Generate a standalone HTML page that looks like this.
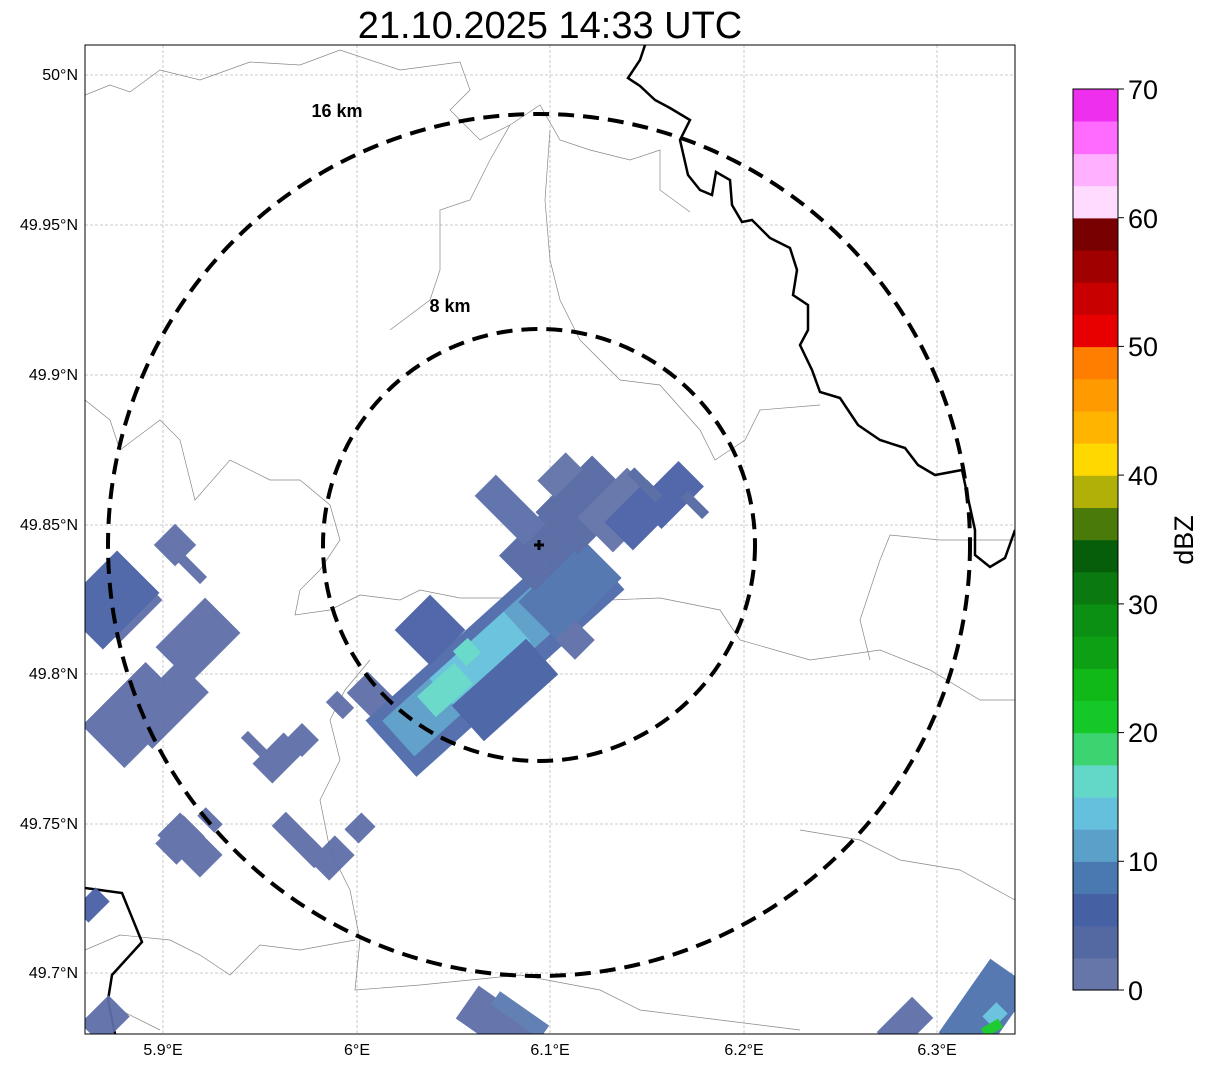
<!DOCTYPE html><html><head><style>body{margin:0;background:#fff}svg{display:block}text{font-family:"Liberation Sans",sans-serif}</style></head><body>
<svg width="1207" height="1069" viewBox="0 0 1207 1069" xmlns="http://www.w3.org/2000/svg">
<text x="550" y="38" font-size="38" text-anchor="middle">21.10.2025 14:33 UTC</text>
<defs><clipPath id="c"><rect x="85" y="45" width="930" height="989"/></clipPath></defs>
<g clip-path="url(#c)">
<g stroke="#bbb" stroke-width="0.8" stroke-dasharray="3,2">
<line x1="163" y1="45" x2="163" y2="1034"/><line x1="357" y1="45" x2="357" y2="1034"/><line x1="550" y1="45" x2="550" y2="1034"/><line x1="744" y1="45" x2="744" y2="1034"/><line x1="937" y1="45" x2="937" y2="1034"/>
<line x1="85" y1="75" x2="1015" y2="75"/><line x1="85" y1="225" x2="1015" y2="225"/><line x1="85" y1="375" x2="1015" y2="375"/><line x1="85" y1="525" x2="1015" y2="525"/><line x1="85" y1="674" x2="1015" y2="674"/><line x1="85" y1="824" x2="1015" y2="824"/><line x1="85" y1="973" x2="1015" y2="973"/>
</g>
<g fill="none" stroke="#888" stroke-width="0.7">
<path d="M85,95 L110,85 L130,92 L160,70 L200,80 L250,62 L300,65 L340,50 L400,70 L460,62 L470,90 L450,110 L480,140 L510,125 L540,105 L560,140 L590,150 L630,160 L660,150 L660,190 L690,212"/>
<path d="M510,125 L490,160 L470,200 L440,210 L440,270 L430,300 L390,330"/>
<path d="M550,130 L545,200 L550,260 L560,300 L580,340 L620,380 L660,385 L700,430 L715,460 L745,440 L760,410 L820,405"/>
<path d="M85,400 L110,420 L120,450 L160,420 L180,440 L195,500 L230,460 L270,480 L300,480 L330,505 L340,540 L320,570 L300,590 L295,615 L330,610 L360,595 L400,600 L420,590 L460,598 L510,598"/>
<path d="M610,600 L660,598 L720,610 L740,640 L810,660 L880,650 L930,670 L980,700 L1015,700"/>
<path d="M1015,540 L940,540 L890,535 L880,560 L860,620 L870,660"/>
<path d="M370,660 L345,690 L330,720 L340,760 L320,800 L330,850 L350,890 L360,940 L355,990 L420,985 L520,975 L600,990 L640,1010 L720,1020 L800,1030"/>
<path d="M85,950 L120,935 L170,940 L200,955 L230,975 L260,945 L300,950 L355,940"/>
<path d="M800,830 L860,840 L900,860 L960,870 L1015,900"/>
<path d="M120,1010 L160,1030"/>
</g>
<g fill="none" stroke="#000" stroke-width="2.5">
<path d="M645,45 L640,60 L628,78 L640,86 L655,100 L670,108 L690,120 L680,140 L688,175 L700,190 L712,195 L716,172 L730,180 L732,205 L742,222 L752,220 L770,238 L790,248 L797,270 L793,295 L808,305 L808,330 L800,345 L812,370 L820,392 L840,398 L858,425 L880,440 L905,448 L918,465 L935,475 L962,470 L968,498 L975,530 L975,555 L990,567 L1005,558 L1015,530"/>
<path d="M85,888 L122,893 L142,942 L112,975 L108,1000 L115,1034"/>
</g>
<g opacity="0.95">
<g fill="#5e6fa8">
<rect x="-30" y="-30" width="60" height="60" transform="translate(120,600) rotate(-45)"/>
<rect x="-35" y="-25" width="70" height="50" transform="translate(198,640) rotate(-45)"/>
<rect x="-45" y="-30" width="90" height="60" transform="translate(135,715) rotate(-45)"/>
<rect x="-40" y="-22" width="80" height="44" transform="translate(165,705) rotate(-45)"/>
<rect x="-15" y="-15" width="30" height="30" transform="translate(175,545) rotate(-45)"/>
<rect x="-22" y="-5" width="44" height="10" transform="translate(188,565) rotate(45)"/>
<rect x="-22" y="-14" width="44" height="28" transform="translate(278,758) rotate(-45)"/>
<rect x="-12" y="-12" width="24" height="24" transform="translate(302,740) rotate(-45)"/>
<rect x="-30" y="-16" width="60" height="32" transform="translate(190,845) rotate(45)"/>
<rect x="-20" y="-15" width="40" height="30" transform="translate(180,840) rotate(-45)"/>
<rect x="-30" y="-10" width="60" height="20" transform="translate(300,840) rotate(45)"/>
<rect x="-18" y="-14" width="36" height="28" transform="translate(332,858) rotate(-45)"/>
<rect x="-12" y="-10" width="24" height="20" transform="translate(360,828) rotate(-45)"/>
<rect x="-12" y="-8" width="24" height="16" transform="translate(340,705) rotate(45)"/>
<rect x="-15" y="-5" width="30" height="10" transform="translate(255,745) rotate(45)"/>
<rect x="-12" y="-6" width="24" height="12" transform="translate(210,820) rotate(45)"/>
<rect x="-25" y="-15" width="50" height="30" transform="translate(375,700) rotate(45)"/>
</g>
<rect x="-40" y="-30" width="80" height="60" fill="#4a62a6" transform="translate(110,600) rotate(-45)"/>
<rect x="-140" y="-38" width="280" height="76" fill="#4d6aaa" transform="translate(495,655) rotate(-42)"/>
<rect x="-110" y="-24" width="220" height="48" fill="#5a9cc8" transform="translate(480,665) rotate(-42)"/>
<rect x="-50" y="-20" width="100" height="40" fill="#64c0dc" transform="translate(480,660) rotate(-42)"/>
<rect x="-25" y="-14" width="50" height="28" fill="#64d8c8" transform="translate(445,690) rotate(-42)"/>
<rect x="-10" y="-10" width="20" height="20" fill="#64d8c8" transform="translate(467,652) rotate(-42)"/>
<rect x="-50" y="-24" width="100" height="48" fill="#4660a4" transform="translate(505,690) rotate(-42)"/>
<rect x="-25" y="-25" width="50" height="50" fill="#4a60a6" transform="translate(430,630) rotate(-45)"/>
<rect x="-45" y="-28" width="90" height="56" fill="#4d72ae" transform="translate(570,590) rotate(-45)"/>
<rect x="-40" y="-25" width="80" height="50" fill="#5468a2" transform="translate(545,545) rotate(-45)"/>
<rect x="-35" y="-15" width="70" height="30" fill="#5a6ea8" transform="translate(510,510) rotate(45)"/>
<rect x="-40" y="-30" width="80" height="60" fill="#5468a2" transform="translate(585,505) rotate(-45)"/>
<rect x="-35" y="-25" width="70" height="50" fill="#6272a8" transform="translate(620,510) rotate(-45)"/>
<rect x="-30" y="-20" width="60" height="40" fill="#4a60a6" transform="translate(640,515) rotate(-45)"/>
<rect x="-20" y="-12" width="40" height="24" fill="#6272a8" transform="translate(560,475) rotate(-45)"/>
<rect x="-30" y="-18" width="60" height="36" fill="#4a60a6" transform="translate(670,495) rotate(-45)"/>
<rect x="-20" y="-5" width="40" height="10" fill="#5468a2" transform="translate(645,485) rotate(45)"/>
<rect x="-15" y="-5" width="30" height="10" fill="#5468a2" transform="translate(695,505) rotate(45)"/>
<rect x="-14" y="-14" width="28" height="28" fill="#5e6fa8" transform="translate(575,640) rotate(-45)"/>
<rect x="-40" y="-20" width="80" height="40" fill="#5e6fa8" transform="translate(500,1025) rotate(35)"/>
<rect x="-30" y="-8" width="60" height="16" fill="#5a7ab0" transform="translate(520,1015) rotate(35)"/>
<rect x="-25" y="-15" width="50" height="30" fill="#5e6fa8" transform="translate(905,1025) rotate(-45)"/>
<rect x="-45" y="-25" width="90" height="50" fill="#4d72ae" transform="translate(985,1010) rotate(-55)"/>
<rect x="-10" y="-8" width="20" height="16" fill="#64c0dc" transform="translate(995,1015) rotate(-45)"/>
<rect x="-10" y="-5" width="20" height="10" fill="#14c828" transform="translate(992,1028) rotate(-30)"/>
<rect x="-15" y="-10" width="30" height="20" fill="#4a60a6" transform="translate(92,905) rotate(-45)"/>
<rect x="-20" y="-15" width="40" height="30" fill="#5e6fa8" transform="translate(105,1020) rotate(-45)"/>
</g>
<g fill="none" stroke="#000" stroke-width="4" stroke-dasharray="16,9">
<circle cx="539" cy="545" r="431"/><circle cx="539" cy="545" r="216"/>
</g>
<path d="M539,540 v10 M534,545 h10" stroke="#000" stroke-width="3"/>
</g>
<rect x="85" y="45" width="930" height="989" fill="none" stroke="#000" stroke-width="1"/>
<text x="337" y="117" font-size="18" font-weight="bold" text-anchor="middle">16 km</text>
<text x="450" y="312" font-size="18" font-weight="bold" text-anchor="middle">8 km</text>
<g font-size="16" text-anchor="end">
<text x="78" y="80">50°N</text><text x="78" y="230">49.95°N</text><text x="78" y="380">49.9°N</text><text x="78" y="530">49.85°N</text><text x="78" y="679">49.8°N</text><text x="78" y="829">49.75°N</text><text x="78" y="978">49.7°N</text>
</g>
<g font-size="16" text-anchor="middle">
<text x="163" y="1055">5.9°E</text><text x="357" y="1055">6°E</text><text x="550" y="1055">6.1°E</text><text x="744" y="1055">6.2°E</text><text x="937" y="1055">6.3°E</text>
</g>
<g>
<rect x="1073" y="957.8" width="45" height="32.8" fill="#6676a8"/>
<rect x="1073" y="925.6" width="45" height="32.8" fill="#5468a2"/>
<rect x="1073" y="893.5" width="45" height="32.8" fill="#4660a4"/>
<rect x="1073" y="861.3" width="45" height="32.8" fill="#4a78b0"/>
<rect x="1073" y="829.1" width="45" height="32.8" fill="#5aa0c8"/>
<rect x="1073" y="796.9" width="45" height="32.8" fill="#64c0dc"/>
<rect x="1073" y="764.8" width="45" height="32.8" fill="#64d8c8"/>
<rect x="1073" y="732.6" width="45" height="32.8" fill="#3cd470"/>
<rect x="1073" y="700.4" width="45" height="32.8" fill="#14c828"/>
<rect x="1073" y="668.2" width="45" height="32.8" fill="#10b818"/>
<rect x="1073" y="636.1" width="45" height="32.8" fill="#0ea014"/>
<rect x="1073" y="603.9" width="45" height="32.8" fill="#0c9014"/>
<rect x="1073" y="571.7" width="45" height="32.8" fill="#0a7a10"/>
<rect x="1073" y="539.5" width="45" height="32.8" fill="#065e0a"/>
<rect x="1073" y="507.4" width="45" height="32.8" fill="#4a7a0a"/>
<rect x="1073" y="475.2" width="45" height="32.8" fill="#b0b008"/>
<rect x="1073" y="443.0" width="45" height="32.8" fill="#ffd800"/>
<rect x="1073" y="410.8" width="45" height="32.8" fill="#ffb400"/>
<rect x="1073" y="378.7" width="45" height="32.8" fill="#ff9a00"/>
<rect x="1073" y="346.5" width="45" height="32.8" fill="#ff7e00"/>
<rect x="1073" y="314.3" width="45" height="32.8" fill="#e80000"/>
<rect x="1073" y="282.1" width="45" height="32.8" fill="#c80000"/>
<rect x="1073" y="250.0" width="45" height="32.8" fill="#a00000"/>
<rect x="1073" y="217.8" width="45" height="32.8" fill="#780000"/>
<rect x="1073" y="185.6" width="45" height="32.8" fill="#ffdcff"/>
<rect x="1073" y="153.4" width="45" height="32.8" fill="#ffb0ff"/>
<rect x="1073" y="121.3" width="45" height="32.8" fill="#ff6aff"/>
<rect x="1073" y="89" width="45" height="32.5" fill="#ee30ee"/>
<rect x="1073" y="89" width="45" height="901" fill="none" stroke="#000"/>
<g stroke="#000"><line x1="1118" y1="990" x2="1124" y2="990"/><line x1="1118" y1="861.3" x2="1124" y2="861.3"/><line x1="1118" y1="732.6" x2="1124" y2="732.6"/><line x1="1118" y1="603.9" x2="1124" y2="603.9"/><line x1="1118" y1="475.1" x2="1124" y2="475.1"/><line x1="1118" y1="346.4" x2="1124" y2="346.4"/><line x1="1118" y1="217.7" x2="1124" y2="217.7"/><line x1="1118" y1="89" x2="1124" y2="89"/></g>
<g font-size="27"><text x="1128" y="1000">0</text><text x="1128" y="871">10</text><text x="1128" y="742">20</text><text x="1128" y="614">30</text><text x="1128" y="485">40</text><text x="1128" y="356">50</text><text x="1128" y="228">60</text><text x="1128" y="99">70</text></g>
<text transform="translate(1193,540) rotate(-90)" font-size="27" text-anchor="middle">dBZ</text>
</g>
</svg>
</body></html>
